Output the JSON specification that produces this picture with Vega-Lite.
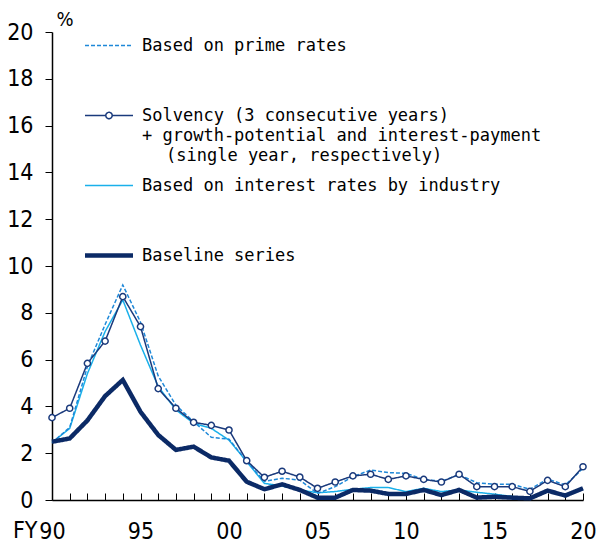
{
  "$schema": "https://vega.github.io/schema/vega-lite/v6.json",
  "width": 531,
  "height": 468,
  "autosize": {"type": "none"},
  "padding": {"left": 52, "top": 32, "right": 17, "bottom": 49},
  "background": "white",
  "config": {"view": {"stroke": null}},
  "datasets": {
    "rates": [
      {"series": "Based on interest rates by industry", "year": 1990, "value": 2.45},
      {"series": "Based on interest rates by industry", "year": 1991, "value": 3.06},
      {"series": "Based on interest rates by industry", "year": 1992, "value": 5.4},
      {"series": "Based on interest rates by industry", "year": 1993, "value": 7.2},
      {"series": "Based on interest rates by industry", "year": 1994, "value": 8.55},
      {"series": "Based on interest rates by industry", "year": 1995, "value": 6.62},
      {"series": "Based on interest rates by industry", "year": 1996, "value": 4.85},
      {"series": "Based on interest rates by industry", "year": 1997, "value": 3.85},
      {"series": "Based on interest rates by industry", "year": 1998, "value": 3.28},
      {"series": "Based on interest rates by industry", "year": 1999, "value": 3.06},
      {"series": "Based on interest rates by industry", "year": 2000, "value": 2.56},
      {"series": "Based on interest rates by industry", "year": 2001, "value": 1.64},
      {"series": "Based on interest rates by industry", "year": 2002, "value": 0.71},
      {"series": "Based on interest rates by industry", "year": 2003, "value": 0.6},
      {"series": "Based on interest rates by industry", "year": 2004, "value": 0.43},
      {"series": "Based on interest rates by industry", "year": 2005, "value": 0.31},
      {"series": "Based on interest rates by industry", "year": 2006, "value": 0.36},
      {"series": "Based on interest rates by industry", "year": 2007, "value": 0.46},
      {"series": "Based on interest rates by industry", "year": 2008, "value": 0.53},
      {"series": "Based on interest rates by industry", "year": 2009, "value": 0.53},
      {"series": "Based on interest rates by industry", "year": 2010, "value": 0.36},
      {"series": "Based on interest rates by industry", "year": 2011, "value": 0.5},
      {"series": "Based on interest rates by industry", "year": 2012, "value": 0.36},
      {"series": "Based on interest rates by industry", "year": 2013, "value": 0.43},
      {"series": "Based on interest rates by industry", "year": 2014, "value": 0.33},
      {"series": "Based on interest rates by industry", "year": 2015, "value": 0.25},
      {"series": "Based on interest rates by industry", "year": 2016, "value": 0.15},
      {"series": "Based on interest rates by industry", "year": 2017, "value": 0.07},
      {"series": "Based on interest rates by industry", "year": 2018, "value": 0.38},
      {"series": "Based on interest rates by industry", "year": 2019, "value": 0.17},
      {"series": "Based on interest rates by industry", "year": 2020, "value": 0.47},
      {"series": "Based on prime rates", "year": 1990, "value": 2.45},
      {"series": "Based on prime rates", "year": 1991, "value": 3.1},
      {"series": "Based on prime rates", "year": 1992, "value": 5.7},
      {"series": "Based on prime rates", "year": 1993, "value": 7.5},
      {"series": "Based on prime rates", "year": 1994, "value": 9.19},
      {"series": "Based on prime rates", "year": 1995, "value": 7.6},
      {"series": "Based on prime rates", "year": 1996, "value": 5.3},
      {"series": "Based on prime rates", "year": 1997, "value": 4.05},
      {"series": "Based on prime rates", "year": 1998, "value": 3.35},
      {"series": "Based on prime rates", "year": 1999, "value": 2.68},
      {"series": "Based on prime rates", "year": 2000, "value": 2.6},
      {"series": "Based on prime rates", "year": 2001, "value": 1.65},
      {"series": "Based on prime rates", "year": 2002, "value": 0.8},
      {"series": "Based on prime rates", "year": 2003, "value": 0.93},
      {"series": "Based on prime rates", "year": 2004, "value": 0.85},
      {"series": "Based on prime rates", "year": 2005, "value": 0.28},
      {"series": "Based on prime rates", "year": 2006, "value": 0.57},
      {"series": "Based on prime rates", "year": 2007, "value": 1.0},
      {"series": "Based on prime rates", "year": 2008, "value": 1.28},
      {"series": "Based on prime rates", "year": 2009, "value": 1.17},
      {"series": "Based on prime rates", "year": 2010, "value": 1.14},
      {"series": "Based on prime rates", "year": 2011, "value": 0.88},
      {"series": "Based on prime rates", "year": 2012, "value": 0.8},
      {"series": "Based on prime rates", "year": 2013, "value": 1.08},
      {"series": "Based on prime rates", "year": 2014, "value": 0.74},
      {"series": "Based on prime rates", "year": 2015, "value": 0.67},
      {"series": "Based on prime rates", "year": 2016, "value": 0.67},
      {"series": "Based on prime rates", "year": 2017, "value": 0.46},
      {"series": "Based on prime rates", "year": 2018, "value": 0.9},
      {"series": "Based on prime rates", "year": 2019, "value": 0.64},
      {"series": "Based on prime rates", "year": 2020, "value": 1.35},
      {"series": "Baseline series", "year": 1990, "value": 2.49},
      {"series": "Baseline series", "year": 1991, "value": 2.63},
      {"series": "Baseline series", "year": 1992, "value": 3.4},
      {"series": "Baseline series", "year": 1993, "value": 4.44},
      {"series": "Baseline series", "year": 1994, "value": 5.13},
      {"series": "Baseline series", "year": 1995, "value": 3.77},
      {"series": "Baseline series", "year": 1996, "value": 2.78},
      {"series": "Baseline series", "year": 1997, "value": 2.14},
      {"series": "Baseline series", "year": 1998, "value": 2.28},
      {"series": "Baseline series", "year": 1999, "value": 1.82},
      {"series": "Baseline series", "year": 2000, "value": 1.68},
      {"series": "Baseline series", "year": 2001, "value": 0.78},
      {"series": "Baseline series", "year": 2002, "value": 0.46},
      {"series": "Baseline series", "year": 2003, "value": 0.67},
      {"series": "Baseline series", "year": 2004, "value": 0.43},
      {"series": "Baseline series", "year": 2005, "value": 0.1},
      {"series": "Baseline series", "year": 2006, "value": 0.1},
      {"series": "Baseline series", "year": 2007, "value": 0.43},
      {"series": "Baseline series", "year": 2008, "value": 0.4},
      {"series": "Baseline series", "year": 2009, "value": 0.26},
      {"series": "Baseline series", "year": 2010, "value": 0.26},
      {"series": "Baseline series", "year": 2011, "value": 0.43},
      {"series": "Baseline series", "year": 2012, "value": 0.21},
      {"series": "Baseline series", "year": 2013, "value": 0.43},
      {"series": "Baseline series", "year": 2014, "value": 0.1},
      {"series": "Baseline series", "year": 2015, "value": 0.14},
      {"series": "Baseline series", "year": 2016, "value": 0.1},
      {"series": "Baseline series", "year": 2017, "value": 0.07},
      {"series": "Baseline series", "year": 2018, "value": 0.4},
      {"series": "Baseline series", "year": 2019, "value": 0.19},
      {"series": "Baseline series", "year": 2020, "value": 0.5},
      {"series": "Solvency", "year": 1990, "value": 3.52},
      {"series": "Solvency", "year": 1991, "value": 3.92},
      {"series": "Solvency", "year": 1992, "value": 5.84},
      {"series": "Solvency", "year": 1993, "value": 6.79},
      {"series": "Solvency", "year": 1994, "value": 8.69},
      {"series": "Solvency", "year": 1995, "value": 7.41},
      {"series": "Solvency", "year": 1996, "value": 4.76},
      {"series": "Solvency", "year": 1997, "value": 3.92},
      {"series": "Solvency", "year": 1998, "value": 3.32},
      {"series": "Solvency", "year": 1999, "value": 3.19},
      {"series": "Solvency", "year": 2000, "value": 2.99},
      {"series": "Solvency", "year": 2001, "value": 1.68},
      {"series": "Solvency", "year": 2002, "value": 0.97},
      {"series": "Solvency", "year": 2003, "value": 1.23},
      {"series": "Solvency", "year": 2004, "value": 0.98},
      {"series": "Solvency", "year": 2005, "value": 0.5},
      {"series": "Solvency", "year": 2006, "value": 0.77},
      {"series": "Solvency", "year": 2007, "value": 1.03},
      {"series": "Solvency", "year": 2008, "value": 1.1},
      {"series": "Solvency", "year": 2009, "value": 0.88},
      {"series": "Solvency", "year": 2010, "value": 1.03},
      {"series": "Solvency", "year": 2011, "value": 0.88},
      {"series": "Solvency", "year": 2012, "value": 0.77},
      {"series": "Solvency", "year": 2013, "value": 1.1},
      {"series": "Solvency", "year": 2014, "value": 0.57},
      {"series": "Solvency", "year": 2015, "value": 0.57},
      {"series": "Solvency", "year": 2016, "value": 0.57},
      {"series": "Solvency", "year": 2017, "value": 0.37},
      {"series": "Solvency", "year": 2018, "value": 0.84},
      {"series": "Solvency", "year": 2019, "value": 0.57},
      {"series": "Solvency", "year": 2020, "value": 1.42}
    ]
  },
  "data": {"name": "rates"},
  "encoding": {
    "x": {
      "field": "year",
      "type": "quantitative",
      "scale": {"domain": [1990, 2020], "nice": false, "zero": false},
      "axis": {
        "values": [1990, 1991, 1992, 1993, 1994, 1995, 1996, 1997, 1998, 1999, 2000, 2001, 2002, 2003, 2004, 2005, 2006, 2007, 2008, 2009, 2010, 2011, 2012, 2013, 2014, 2015, 2016, 2017, 2018, 2019, 2020],
        "labelExpr": "datum.value % 5 == 0 ? slice(toString(datum.value), 2) : ''",
        "grid": false,
        "tickSize": -7,
        "tickColor": "#000000",
        "tickWidth": 1,
        "domainColor": "#000000",
        "domainWidth": 1.5,
        "labelPadding": 27,
        "labelFont": "DejaVu Sans Condensed",
        "labelFontSize": 23,
        "labelColor": "#000000",
        "labelFlush": false,
        "labelOverlap": false,
        "title": "FY",
        "titleFont": "DejaVu Sans Condensed",
        "titleFontSize": 23,
        "titleFontWeight": "normal",
        "titleColor": "#000000",
        "titleAlign": "right",
        "titleBaseline": "alphabetic",
        "titleX": -15,
        "titleY": 37
      }
    },
    "y": {
      "field": "value",
      "type": "quantitative",
      "scale": {"domain": [0, 20], "nice": false},
      "axis": {
        "values": [0, 2, 4, 6, 8, 10, 12, 14, 16, 18, 20],
        "grid": false,
        "tickSize": 7,
        "tickColor": "#000000",
        "tickWidth": 1,
        "domainColor": "#000000",
        "domainWidth": 1.5,
        "labelPadding": 12,
        "labelFont": "DejaVu Sans Condensed",
        "labelFontSize": 23,
        "labelColor": "#000000",
        "labelFlush": false,
        "labelOverlap": false,
        "title": "%",
        "titleFont": "DejaVu Sans Condensed",
        "titleFontSize": 20,
        "titleFontWeight": "normal",
        "titleColor": "#000000",
        "titleAngle": 0,
        "titleAlign": "left",
        "titleBaseline": "alphabetic",
        "titleX": 4,
        "titleY": -7
      }
    }
  },
  "layer": [
    {
      "mark": {"type": "line", "strokeJoin": "miter"},
      "encoding": {
        "color": {
          "field": "series",
          "type": "nominal",
          "scale": {
            "domain": ["Based on prime rates", "Solvency", "Based on interest rates by industry", "Baseline series"],
            "range": ["#1e88d8", "#1a3a7c", "#1ab0ea", "#0b2a66"]
          },
          "legend": {
            "orient": "none",
            "legendX": 48.5,
            "legendY": 5,
            "padding": 0,
            "title": null,
            "direction": "vertical",
            "symbolType": "stroke",
            "symbolSize": 100,
            "symbolStrokeWidth": 1.5,
            "labelOffset": 24.5,
            "labelLimit": 0,
            "labelFont": "DejaVu Sans Mono",
            "labelFontSize": 17,
            "labelColor": "#000000",
            "labelBaseline": "top",
            "labelExpr": "datum.label == 'Solvency' ? ['Solvency (3 consecutive years)', '+ growth-potential and interest-payment', '\u2800\u2800(single year, respectively)'] : [datum.label, '', '']",
            "rowPadding": 12,
            "encode": {
              "labels": {
                "update": {
                  "dy": {"value": -8},
                  "lineHeight": {"value": 20}
                }
              },
              "symbols": {
                "update": {
                  "strokeDash": {"signal": "(datum.value == 'Based on prime rates' ? [4, 2] : [])"},
                  "strokeWidth": {"signal": "(datum.value == 'Baseline series' ? 4.5 : 1.5)"},
                  "shape": {"signal": "(datum.value == 'Solvency' ? 'M-4.8,0L-0.64,0M0.64,0L4.8,0M0.64,0A0.64,0.64,0,1,1,-0.64,0A0.64,0.64,0,1,1,0.64,0Z' : 'M-4.8,0L4.8,0')"},
                  "fill": {"signal": "(datum.value == 'Solvency' ? 'white' : 'transparent')"},
                  "fillOpacity": {"value": 1},
                  "opacity": {"value": 1}
                }
              }
            }
          }
        },
        "strokeDash": {
          "field": "series",
          "type": "nominal",
          "scale": {
            "domain": ["Based on prime rates", "Solvency", "Based on interest rates by industry", "Baseline series"],
            "range": [[4, 2], [1, 0], [1, 0], [1, 0]]
          },
          "legend": null
        },
        "strokeWidth": {
          "condition": {"test": "datum.series == 'Baseline series'", "value": 4.5},
          "value": 1.5
        }
      }
    },
    {
      "transform": [{"filter": "datum.series == 'Solvency'"}],
      "mark": {"type": "point", "shape": "circle", "filled": true, "fill": "white", "stroke": "#1a3a7c", "strokeWidth": 1.5, "size": 38, "opacity": 1}
    }
  ]
}
